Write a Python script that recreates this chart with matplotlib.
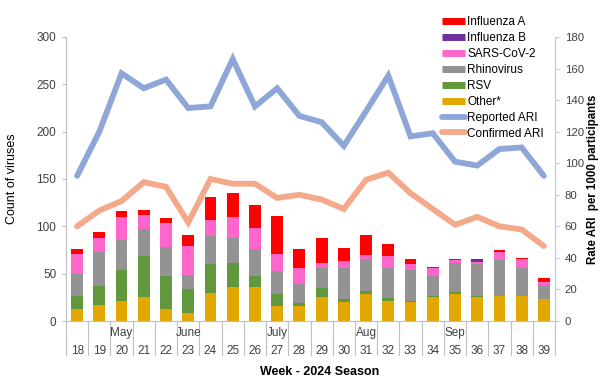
import matplotlib
matplotlib.use("Agg")
import matplotlib.pyplot as plt
from matplotlib.lines import Line2D
import numpy as np

plt.rcParams['font.family'] = ['Liberation Sans', 'DejaVu Sans']

weeks = [18, 19, 20, 21, 22, 23, 24, 25, 26, 27, 28, 29, 30, 31, 32, 33, 34, 35, 36, 37, 38, 39]
months = {20: "May", 23: "June", 27: "July", 31: "Aug", 35: "Sep"}

other = [13, 17, 21, 25, 13, 8, 30, 36, 36, 16, 16, 25, 20, 29, 21, 20, 25, 29, 25, 26, 26, 23]
rsv = [13, 20, 33, 44, 35, 26, 30, 25, 12, 12, 3, 10, 3, 3, 3, 1, 1, 2, 1, 0.5, 0.5, 0.5]
rhino = [24, 36, 32, 28, 30, 15, 30, 27, 28, 25, 20, 21, 33, 34, 32, 33, 22, 30, 34, 38, 30, 15]
sars = [21, 15, 24, 15, 25, 30, 17, 22, 22, 18, 17, 5, 7, 4, 13, 6, 8, 3, 2, 8, 9, 3]
flub = [0, 0, 0, 0, 0, 0, 0, 0, 0, 0, 0, 0, 0, 0, 0, 0, 0, 0, 2, 0, 0, 0]
flua = [5, 6, 6, 5, 6, 12, 24, 25, 25, 40, 20, 27, 14, 21, 12, 5, 1, 2, 2, 2, 1.5, 4]

reported = [92, 120, 157, 147.5, 153, 135, 136, 166, 136, 147.5, 130, 126, 111, 133, 155.5, 117, 119, 101, 98.5, 109, 110, 92]
confirmed = [60, 70, 76, 88, 85, 62.5, 90, 87, 87, 78, 80, 77, 71, 89.5, 94, 81, 71, 61, 66, 60, 58, 47.5]

colors = {
    "Influenza A": "#FF0000",
    "Influenza B": "#7030A0",
    "SARS-CoV-2": "#FF66CC",
    "Rhinovirus": "#939393",
    "RSV": "#61983D",
    "Other*": "#E2A800",
}
rep_color = "#8EA6D8"
conf_color = "#F3A98A"

W, H = 600, 384
fig = plt.figure(figsize=(W / 100, H / 100), dpi=100)
ax = fig.add_axes([66 / W, 1 - 321 / H, 489 / W, 284 / H])
ax2 = ax.twinx()

x = np.arange(len(weeks))
series = [("Other*", other), ("RSV", rsv), ("Rhinovirus", rhino),
          ("SARS-CoV-2", sars), ("Influenza B", flub), ("Influenza A", flua)]
bottom = np.zeros(len(weeks))
for name, vals in series:
    v = np.array(vals, dtype=float)
    ax.bar(x, v, bottom=bottom, width=0.53, color=colors[name], linewidth=0, zorder=2)
    bottom += v

ax2.plot(x, reported, color=rep_color, lw=4.2, solid_joinstyle='miter', solid_capstyle='round', zorder=3)
ax2.plot(x, confirmed, color=conf_color, lw=4.2, solid_joinstyle='miter', solid_capstyle='round', zorder=3)

ax.set_xlim(-0.5, len(weeks) - 0.5)
ax.set_ylim(0, 300)
ax2.set_ylim(0, 180)
ax.set_yticks(range(0, 301, 50))
ax2.set_yticks(range(0, 181, 20))
ax.set_xticks([])

for a in (ax, ax2):
    for s in a.spines.values():
        s.set_visible(False)
ax.spines['left'].set_visible(True)
ax.spines['left'].set_color("#BFBFBF")
ax2.spines['right'].set_visible(True)
ax2.spines['right'].set_color("#B4C7E7")
ax.spines['bottom'].set_visible(True)
ax.spines['bottom'].set_color("#BFBFBF")

ax.tick_params(axis='y', labelsize=8.5, length=3, color="#BFBFBF", labelcolor="#404040", pad=4)
ax2.tick_params(axis='y', labelsize=8.2, length=3, color="#B4C7E7", labelcolor="#404040", pad=4)

# category separators and labels
trans = ax.get_xaxis_transform()
sep_bottom = -(355 - 321) / 284
for i in range(len(weeks) + 1):
    ax.plot([i - 0.5, i - 0.5], [0, sep_bottom], transform=trans, color="#BFBFBF",
            lw=0.8, clip_on=False)
for i, w in enumerate(weeks):
    ax.text(i, -(351 - 321) / 284, str(w), transform=trans, ha='center', va='center',
            fontsize=8.5, color="#404040")
    if w in months:
        ax.text(i, -(333 - 321) / 284, months[w], transform=trans, ha='center', va='center',
                fontsize=8.5, color="#404040")

fig.text(320 / W, 1 - 372 / H, "Week - 2024 Season", ha='center', va='center',
         fontsize=9, fontweight='bold')
fig.text(12 / W, 1 - 179 / H, "Count of viruses", rotation=90, ha='center', va='center',
         fontsize=9)
fig.text(593 / W, 1 - 179 / H, "Rate ARI  per 1000 participants", rotation=90, ha='center',
         va='center', fontsize=8.3, fontweight='bold')

handles = []
labels = []
for name in ["Influenza A", "Influenza B", "SARS-CoV-2", "Rhinovirus", "RSV", "Other*"]:
    handles.append(Line2D([0], [0], color=colors[name], lw=5, solid_capstyle='butt'))
    labels.append(name)
handles.append(Line2D([0], [0], color=rep_color, lw=4.2, solid_capstyle='round'))
labels.append("Reported ARI")
handles.append(Line2D([0], [0], color=conf_color, lw=4.2, solid_capstyle='round'))
labels.append("Confirmed ARI")

fig.legend(handles, labels, loc='upper left', bbox_to_anchor=(440 / W, 1 - 14 / H),
           frameon=False, fontsize=8.5, handlelength=1.9, handletextpad=0.2,
           labelspacing=0.33, borderaxespad=0, borderpad=0.2)

fig.savefig("out.png", dpi=100)
